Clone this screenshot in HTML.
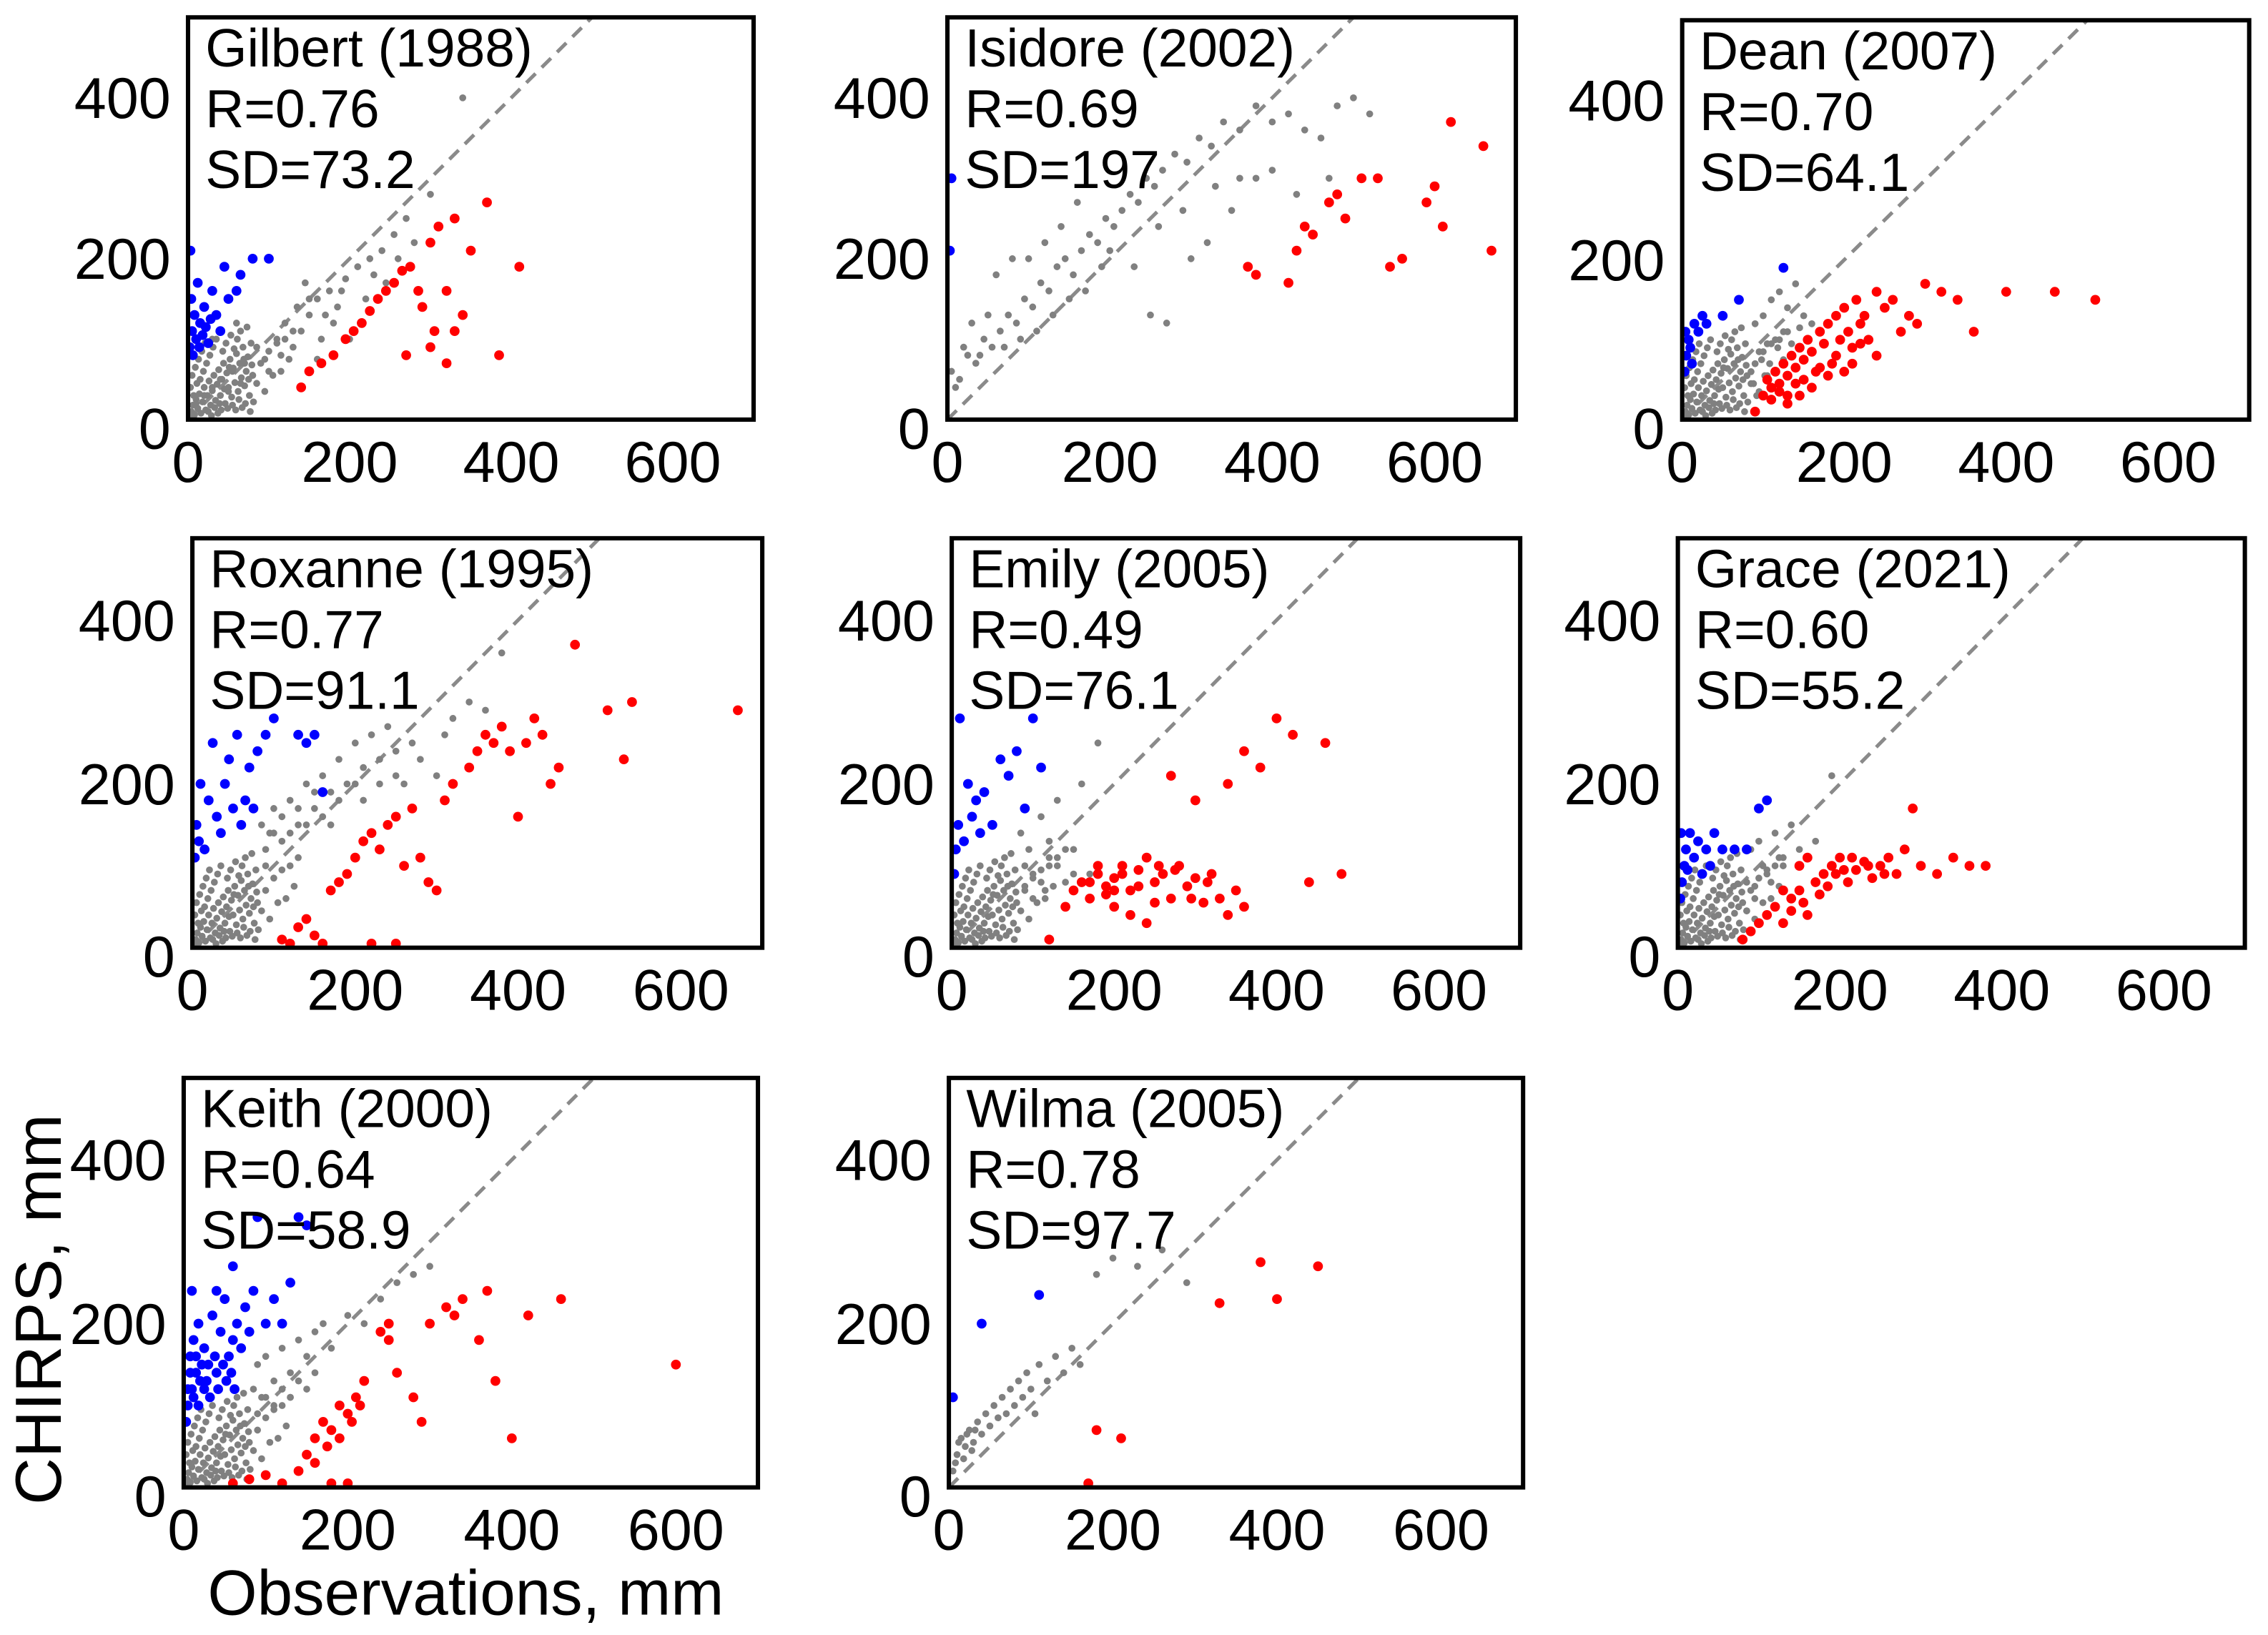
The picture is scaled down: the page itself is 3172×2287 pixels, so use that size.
<!DOCTYPE html>
<html><head><meta charset="utf-8">
<style>
html,body{margin:0;padding:0;background:#fff;}
svg{display:block;}
text{font-family:"Liberation Sans",sans-serif;fill:#000;}
</style></head>
<body>
<svg id="fig" width="3172" height="2287" viewBox="0 0 1568 1130" preserveAspectRatio="none" xmlns="http://www.w3.org/2000/svg"></svg>
<script>
// ---- data (observations mm, CHIRPS mm) ----
const xTicks=[0,200,400,600];
const yTicks=[0,200,400];
const stormNames=["Gilbert (1988)","Isidore (2002)","Dean (2007)","Roxanne (1995)","Emily (2005)","Grace (2021)","Keith (2000)","Wilma (2005)"];
const stormR=["0.76","0.69","0.70","0.77","0.49","0.60","0.64","0.78"];
const stormSD=["73.2","197","64.1","91.1","76.1","55.2","58.9","97.7"];
// shared dense near-origin cluster (observations, CHIRPS)
const coreCluster=[[2,4],[4,10],[6,18],[8,6],[10,25],[12,14],[14,32],[16,8],[18,22],[20,40],[22,12],[24,30],[26,48],[28,18],[30,36],[32,55],[34,24],[36,44],[38,62],[40,30],[42,50],[44,70],[46,20],[48,58],[50,40],[52,75],[54,28],[56,64],[58,46],[60,82],[62,35],[64,70],[66,52],[68,90],[70,42],[72,60],[74,78],[76,30],[78,95],[80,55],[3,40],[5,55],[7,30],[9,65],[11,45],[13,75],[15,50],[17,85],[19,60],[21,95],[23,70],[25,10],[27,80],[29,5],[31,90],[33,15],[35,100],[37,8],[39,20],[41,12],[43,85],[45,38],[47,95],[49,14],[51,65],[53,105],[55,18],[57,88],[59,12],[61,100],[63,25],[65,110],[67,15],[69,75],[71,20],[73,115],[75,50],[77,10],[79,68],[81,22],[85,45],[90,70],[95,35],[100,85],[105,55],[110,95],[115,60],[120,100],[125,75],[130,110]];
const grey0=[[10,20],[20,30],[30,40],[40,50],[50,35],[55,60],[65,45],[70,70],[80,55],[85,90],[95,75],[100,60],[110,100],[115,80],[120,120],[130,90],[135,140],[140,110],[150,130],[160,150],[165,100],[175,160],[185,140],[195,175],[210,190],[225,200],[240,210],[255,230],[270,250],[300,280],[340,400],[145,170],[160,75],[180,120],[200,100],[220,150],[245,170],[30,100],[60,120],[150,150],[170,130],[190,160],[230,180],[260,200],[280,220]];
const blue0=[[2,90],[5,110],[8,130],[4,150],[10,100],[15,120],[20,140],[25,95],[30,160],[35,130],[40,110],[45,190],[50,150],[60,160],[65,180],[80,200],[100,200],[3,210],[12,170],[18,105],[6,80],[14,90],[22,115],[28,125]];
const red0=[[140,40],[150,60],[165,70],[180,80],[195,100],[205,110],[215,120],[225,135],[235,150],[245,160],[255,170],[265,185],[275,190],[290,140],[300,220],[310,240],[320,160],[330,250],[340,130],[350,210],[370,270],[385,80],[410,190],[320,70],[300,90],[270,80],[285,160],[305,110],[330,110]];
const grey1=[[5,60],[15,50],[25,80],[35,70],[45,100],[55,90],[65,110],[75,130],[85,120],[95,150],[105,140],[115,170],[125,160],[135,190],[145,200],[155,180],[165,210],[175,230],[185,220],[195,250],[205,240],[215,260],[225,280],[235,270],[245,300],[255,290],[265,310],[280,330],[295,320],[310,350],[325,340],[340,370],[360,360],[380,390],[400,370],[420,380],[440,360],[460,350],[480,390],[500,400],[520,380],[270,120],[250,130],[300,200],[320,220],[350,260],[380,300],[100,200],[120,220],[140,240],[60,180],[80,200],[160,270],[200,210],[230,190],[260,240],[290,260],[330,290],[360,300],[400,310],[430,280],[470,300],[10,40],[20,90],[30,120],[40,80],[50,130],[70,90],[90,100],[110,110],[130,130],[150,150],[170,160],[190,190]];
const blue1=[[3,210],[5,300]];
const red1=[[370,190],[380,180],[420,170],[430,210],[440,240],[450,230],[470,270],[480,280],[490,250],[510,300],[530,300],[545,190],[560,200],[590,270],[600,290],[610,240],[620,370],[660,340],[670,210]];
const grey2=[[85,60],[90,120],[95,85],[100,130],[105,95],[110,150],[115,100],[120,160],[130,140],[140,170],[150,130],[160,120],[88,45],[92,30],[98,75],[102,55],[108,70],[118,90],[125,110],[135,95],[145,115]];
const blue2=[[3,60],[5,80],[8,100],[10,90],[15,120],[20,110],[25,130],[30,120],[50,130],[70,150],[125,190],[4,110],[12,70]];
const red2=[[90,10],[100,30],[105,50],[110,40],[115,60],[120,45],[125,70],[130,55],[135,80],[140,65],[145,90],[150,75],[155,100],[160,85],[165,60],[170,110],[175,95],[180,120],[185,70],[190,130],[195,100],[200,140],[205,110],[210,90],[215,150],[220,120],[225,130],[230,100],[240,160],[250,140],[260,150],[270,110],[280,130],[290,120],[300,170],[320,160],[340,150],[360,110],[400,160],[460,160],[510,150],[240,80],[200,60],[160,40],[130,30],[110,25],[120,35],[140,45],[150,50],[170,65],[180,55],[190,80],[210,70],[220,95],[130,20],[145,30]];
const grey3=[[85,150],[90,100],[95,140],[100,170],[110,130],[120,180],[130,150],[140,200],[150,170],[160,210],[170,190],[180,230],[190,200],[200,250],[210,220],[220,260],[230,230],[240,270],[250,240],[260,200],[270,250],[280,230],[300,210],[310,260],[320,280],[340,300],[360,290],[380,360],[90,120],[100,140],[110,160],[120,140],[130,170],[140,150],[150,190],[160,160],[170,150],[180,180],[200,200],[210,180],[230,200],[250,210]];
const blue3=[[3,110],[5,150],[8,130],[10,200],[15,120],[20,180],[25,250],[30,160],[35,140],[40,200],[45,230],[50,170],[55,260],[60,150],[65,180],[70,220],[75,170],[80,240],[90,260],[100,280],[130,260],[150,260],[160,190],[140,250]];
const red3=[[110,10],[120,5],[130,25],[140,35],[150,15],[160,5],[170,70],[180,80],[190,90],[200,110],[210,130],[220,140],[230,120],[240,150],[250,160],[260,100],[270,170],[280,110],[290,80],[300,70],[310,180],[320,200],[340,220],[350,240],[360,260],[370,250],[380,270],[390,240],[400,160],[410,250],[420,280],[430,260],[440,200],[450,220],[470,370],[510,290],[540,300],[530,230],[670,290],[220,5],[250,5]];
const grey4=[[85,140],[90,75],[95,120],[100,90],[110,160],[115,70],[120,110],[130,180],[140,80],[150,120],[160,200],[170,90],[180,250],[90,100],[100,60],[110,80],[120,130],[130,100],[140,120],[150,90]];
const blue4=[[3,90],[5,120],[8,150],[10,280],[15,130],[20,200],[25,160],[30,180],[35,140],[40,190],[50,150],[60,230],[70,210],[80,240],[90,170],[100,280],[110,220]];
const red4=[[120,10],[140,50],[150,70],[160,80],[170,60],[180,90],[190,75],[200,85],[210,100],[220,70],[230,95],[240,110],[250,80],[260,90],[270,60],[280,100],[290,75],[300,85],[310,55],[320,90],[330,60],[340,40],[350,70],[360,50],[270,210],[300,180],[340,200],[360,240],[380,220],[400,280],[420,260],[440,80],[460,250],[480,90],[220,40],[240,30],[200,50],[250,55],[170,80],[190,65],[210,90],[230,75],[255,100],[275,95],[295,60],[315,80],[180,100],[200,70]];
const grey5=[[85,45],[90,120],[95,75],[100,130],[110,90],[120,140],[130,100],[140,150],[150,120],[170,130],[190,210],[85,80],[95,60],[105,100],[115,80],[125,110]];
const blue5=[[3,60],[5,80],[8,100],[10,120],[15,140],[20,110],[25,130],[30,90],[35,120],[40,100],[45,140],[55,120],[70,120],[85,120],[100,170],[110,180],[4,140],[12,95]];
const red5=[[80,10],[90,20],[100,30],[110,40],[120,50],[130,30],[140,60],[150,70],[160,40],[170,80],[180,90],[190,100],[200,110],[210,80],[220,95],[230,105],[240,85],[250,100],[260,110],[270,90],[280,120],[290,170],[300,100],[320,90],[340,110],[360,100],[380,100],[150,100],[160,110],[130,70],[140,45],[155,55],[175,65],[185,75],[195,90],[205,95],[215,110],[235,100],[255,90]];
const grey6=[[85,120],[90,150],[95,110],[100,160],[110,130],[120,170],[130,140],[140,180],[150,160],[160,190],[170,200],[180,170],[200,210],[220,200],[240,230],[260,250],[280,260],[300,270],[90,90],[100,110],[110,100],[120,120],[130,110],[140,130],[150,120],[160,140]];
const blue6=[[3,80],[5,100],[8,140],[10,120],[12,180],[15,160],[18,200],[20,130],[25,170],[30,150],[35,210],[40,140],[45,190],[50,230],[55,160],[60,180],[65,200],[70,170],[75,220],[80,190],[85,240],[90,330],[100,200],[110,230],[120,200],[130,250],[140,330],[150,320],[60,270],[40,240],[10,240],[5,120],[8,160],[12,110],[15,140],[18,100],[22,150],[25,120],[28,130],[32,110],[38,160],[42,120],[48,150],[52,130],[58,140],[62,120]];
const red6=[[60,5],[80,10],[100,15],[120,5],[140,20],[150,40],[160,60],[170,80],[180,70],[190,100],[200,90],[210,110],[220,130],[180,5],[200,5],[240,190],[250,200],[260,140],[280,110],[290,80],[300,200],[320,220],[330,210],[340,230],[360,180],[370,240],[380,130],[400,60],[420,210],[460,230],[600,150],[250,180],[160,30],[175,50],[190,60],[205,80],[215,100]];
const grey7=[[5,20],[10,40],[15,60],[20,50],[25,70],[30,55],[35,80],[40,65],[45,90],[50,75],[55,100],[60,85],[65,110],[70,90],[75,120],[80,100],[85,130],[90,110],[95,140],[100,120],[105,90],[110,150],[120,130],[130,160],[140,140],[150,170],[160,150],[180,260],[200,280],[230,270],[260,290],[290,250],[8,30],[12,55],[18,35],[22,65],[28,45],[32,70]];
const blue7=[[5,110],[40,200],[110,235]];
const red7=[[170,5],[180,70],[210,60],[330,225],[380,275],[400,230],[450,270]];
const greyData=[grey0,grey1,grey2,grey3,grey4,grey5,grey6,grey7];
const blueData=[blue0,blue1,blue2,blue3,blue4,blue5,blue6,blue7];
const redData=[red0,red1,red2,red3,red4,red5,red6,red7];
const hasCore=[true,false,true,true,true,true,true,false];

// ---- layout ----
const boxes=[[130,12,521,290],[655,12,1048,290],[1163,14,1555,290],[133,372,527,655],[658,372,1051,655],[1160,372,1552,655],[127,745,524,1028],[656,745,1053,1028]];
const NS="http://www.w3.org/2000/svg";
const svg=document.getElementById('fig');
function mk(tag,attrs,parent){const e=document.createElementNS(NS,tag);for(const k in attrs)e.setAttribute(k,attrs[k]);(parent||svg).appendChild(e);return e;}
const XMAX=700,YMAX=500;

boxes.forEach((b,i)=>{
  const [x0,y0,x1,y1]=b;
  const sx=v=>x0+(v/XMAX)*(x1-x0);
  const sy=v=>y1-(v/YMAX)*(y1-y0);
  const g=mk('g',{});
  
  
  const cid='clip'+i;
  const cp=mk('clipPath',{id:cid},g);
  mk('rect',{x:x0,y:y0,width:x1-x0,height:y1-y0},cp);
  const plot=mk('g',{'clip-path':'url(#'+cid+')'},g);
  const dl=mk('line',{x1:sx(0),y1:sy(0),x2:sx(600),y2:sy(600),stroke:'#8a8a8a','stroke-width':2.5,'stroke-dasharray':'9,6'},plot);
  
  
  const greys=hasCore[i]?coreCluster.concat(greyData[i]):greyData[i];
  greys.forEach(p=>{
    const c=mk('circle',{cx:sx(p[0]),cy:sy(p[1]),r:2.4,fill:'#808080'},plot);
    
    
  });
  blueData[i].forEach(p=>{
    const c=mk('circle',{cx:sx(p[0]),cy:sy(p[1]),r:3.4,fill:'#0000ff'},plot);
    
    
  });
  redData[i].forEach(p=>{
    const c=mk('circle',{cx:sx(p[0]),cy:sy(p[1]),r:3.4,fill:'#ff0000'},plot);
    
    
  });
  const fr=mk('rect',{x:x0,y:y0,width:x1-x0,height:y1-y0,fill:'none',stroke:'#000','stroke-width':3},g);
  
  
  xTicks.forEach(t=>{
    const tx=mk('text',{x:sx(t),y:y1+43,'font-size':40,'text-anchor':'middle'},g);
    tx.textContent=t;
    
    
  });
  yTicks.forEach(t=>{
    const tx=mk('text',{x:x0-12,y:(t===0?sy(t)+20:sy(t)+14),'font-size':40,'text-anchor':'end'},g);
    tx.textContent=t;
    
    
  });
  const lines=[stormNames[i],'R='+stormR[i],'SD='+stormSD[i]];
  lines.forEach((s,k)=>{
    const tx=mk('text',{x:x0+12,y:y0+34+k*42,'font-size':37},g);
    tx.textContent=s;
    
    
  });
});
const xt=mk('text',{x:322,y:1116,'font-size':44,'text-anchor':'middle'});
xt.textContent='Observations, mm';


const yt=mk('text',{x:0,y:0,'font-size':45,'text-anchor':'middle',transform:'translate(42,905) rotate(-90)'});
yt.textContent='CHIRPS, mm';


</script>
</body></html>
